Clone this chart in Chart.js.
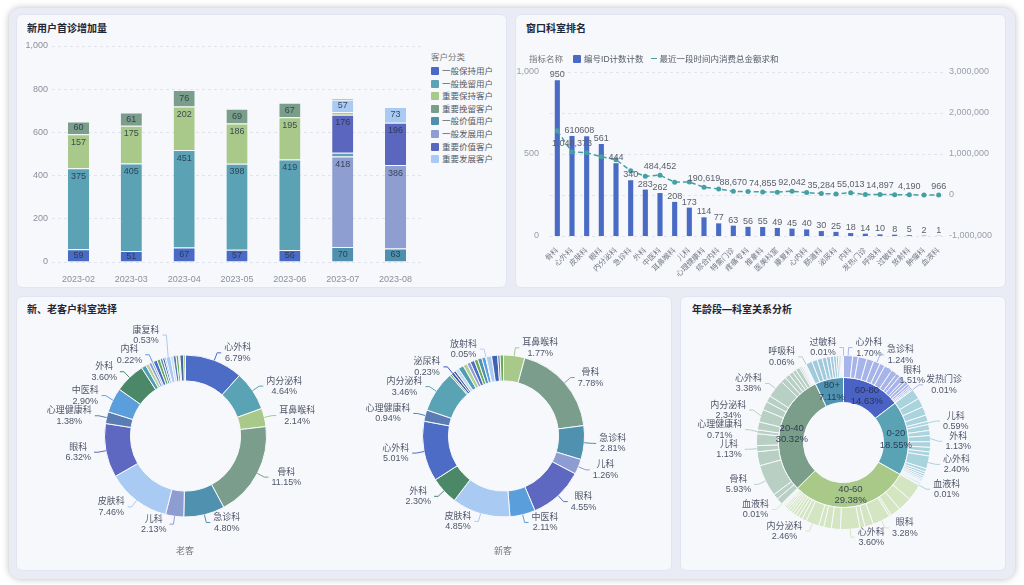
<!DOCTYPE html>
<html lang="zh-CN">
<head>
<meta charset="utf-8">
<title>科室分析看板</title>
<script src="https://cdn.jsdelivr.net/npm/chart.js@4.4.1/dist/chart.umd.min.js"></script>
<style>
  html, body { margin: 0; padding: 0; }
  body { width: 1024px; height: 585px; position: relative; overflow: hidden; background: #fff;
         font-family: "Liberation Sans", "Noto Sans CJK SC", sans-serif; }
  #frame { position: absolute; left: 9px; top: 8px; width: 1006px; height: 571px; border-radius: 12px;
           background: #eaecf5; box-shadow: 0 0 7px rgba(60, 60, 80, 0.35); }
  .panel { position: absolute; background: #f7f8fc; border: 1px solid #e2e5ef; border-radius: 6px; box-sizing: border-box; }
  .title { position: absolute; font-size: 10px; font-weight: bold; color: #1f2636; line-height: 12px; }
  canvas { position: absolute; }
  .legend { position: absolute; font-size: 8.5px; color: #555b66; line-height: 12px; white-space: nowrap; }
  .legend .item { position: absolute; left: 0; }
  .sw { display: inline-block; width: 8px; height: 8px; border-radius: 1px; vertical-align: -1px; margin-right: 3px; }
  .dash { display: inline-block; width: 6px; height: 0; border-top: 1.5px solid #45a0a3; vertical-align: 3px; margin-right: 3px; }
  .caption { position: absolute; font-size: 9px; color: #777; width: 60px; text-align: center; line-height: 12px; }
</style>
</head>
<body>
<div id="frame"></div>
<div class="panel" style="left:16px;top:14px;width:491px;height:274px"></div>
<div class="panel" style="left:515px;top:14px;width:491px;height:274px"></div>
<div class="panel" style="left:16px;top:296px;width:656px;height:275px"></div>
<div class="panel" style="left:680px;top:296px;width:326px;height:275px"></div>

<div class="title" style="left:27px;top:23px">新用户首诊增加量</div>
<div class="title" style="left:526px;top:23px">窗口科室排名</div>
<div class="title" style="left:27px;top:304px">新、老客户科室选择</div>
<div class="title" style="left:692px;top:304px">年龄段—科室关系分析</div>

<canvas id="growth" width="405" height="255" style="left:20px;top:30px"></canvas>
<div class="legend" id="growthLegend" style="left:431px;top:51px"></div>

<canvas id="rank" width="490" height="225" style="left:515px;top:60px"></canvas>
<div class="legend" id="rankLegend" style="left:529px;top:53px"></div>

<canvas id="oldPie" width="311" height="232" style="left:30px;top:320px"></canvas>
<canvas id="newPie" width="311" height="232" style="left:348px;top:320px"></canvas>
<div class="caption" style="left:155px;top:545px">老客</div>
<div class="caption" style="left:473px;top:545px">新客</div>

<canvas id="agePie" width="311" height="233" style="left:688px;top:326px"></canvas>

<script>
// ---------------- Data: 新用户首诊增加量 ----------------
const months = ['2023-02', '2023-03', '2023-04', '2023-05', '2023-06', '2023-07', '2023-08'];
const generalKeep = [59, 51, 67, 57, 56, 0, 0];          // 一般保持用户
const generalRetain = [375, 405, 451, 398, 419, 18, 0];  // 一般挽留用户
const importantKeep = [157, 175, 202, 186, 195, 12, 0];  // 重要保持客户
const importantRetain = [60, 61, 76, 69, 67, 8, 0];      // 重要挽留客户
const generalValue = [0, 0, 0, 0, 0, 70, 63];            // 一般价值用户
const generalGrow = [0, 0, 0, 0, 0, 418, 386];           // 一般发展用户
const importantValue = [0, 0, 0, 0, 0, 176, 196];        // 重要价值客户
const importantGrow = [0, 0, 0, 0, 0, 57, 73];           // 重要发展客户
const customerTypes = ['一般保持用户', '一般挽留用户', '重要保持客户', '重要挽留客户',
                       '一般价值用户', '一般发展用户', '重要价值客户', '重要发展客户'];

// ---------------- Data: 窗口科室排名 ----------------
const rankDepts = ['骨科', '心外科', '皮肤科', '眼科', '内分泌科', '急诊科', '外科', '中医科', '耳鼻喉科', '儿科',
                   '心理健康科', '综合内科', '特需门诊', '疼痛专科', '推拿科', '医美科室', '康复科', '心内科', '肠道科',
                   '泌尿科', '内科', '发热门诊', '呼吸科', '过敏科', '放射科', '肿瘤科', '血液科'];
const idCounts = [950, 610, 608, 561, 444, 340, 283, 262, 208, 173, 114, 77, 63, 56, 55, 49, 45, 40, 30, 25, 18, 14, 10, 8, 5, 2, 1];
const spendSums = [1566000, 1048373, 1032000, 935000, 862000, 592000, 455000, 484452, 312000, 318000, 190619, 148000,
                   88670, 86000, 74855, 70000, 92042, 58000, 35284, 25000, 55013, 12000, 14897, 9000, 4190, 2000, 966];

// ---------------- Data: 新、老客户科室选择 (% of all visits) ----------------
const oldDepts = ['心外科', '内分泌科', '耳鼻喉科', '骨科', '急诊科', '儿科', '皮肤科', '眼科', '心理健康科', '中医科', '外科',
                  '综合内科', '特需门诊', '疼痛专科', '内科', '推拿科', '医美科室', '心内科', '肠道科', '泌尿科', '康复科',
                  '发热门诊', '呼吸科', '过敏科', '放射科', '肿瘤科', '血液科'];
const oldShare = [6.79, 4.64, 2.14, 11.15, 4.80, 2.13, 7.46, 6.32, 1.38, 2.90, 3.60,
                  0.55, 0.40, 0.35, 0.22, 0.45, 0.38, 0.30, 0.25, 0.15, 0.53, 0.30, 0.35, 0.30, 0.15, 0.45, 0.20];
const oldLabelled = ['心外科', '内分泌科', '耳鼻喉科', '骨科', '急诊科', '儿科', '皮肤科', '眼科', '心理健康科', '中医科', '外科', '内科', '康复科'];

const newDepts = ['耳鼻喉科', '骨科', '急诊科', '儿科', '眼科', '中医科', '皮肤科', '外科', '心外科', '心理健康科', '内分泌科',
                  '血液科', '泌尿科', '肿瘤科', '发热门诊', '综合内科', '特需门诊', '疼痛专科', '推拿科', '医美科室', '心内科',
                  '内科', '放射科', '康复科', '肠道科', '呼吸科', '过敏科'];
const newShare = [1.77, 7.78, 2.81, 1.26, 4.55, 2.11, 4.85, 2.30, 5.01, 0.94, 3.46,
                  0.15, 0.23, 0.20, 0.30, 0.45, 0.35, 0.30, 0.35, 0.30, 0.35, 0.32, 0.05, 0.45, 0.50, 0.20, 0.28];
const newLabelled = ['耳鼻喉科', '骨科', '急诊科', '儿科', '眼科', '中医科', '皮肤科', '外科', '心外科', '心理健康科', '内分泌科', '泌尿科', '放射科'];

// ---------------- Data: 年龄段—科室关系分析 ----------------
const ageGroups = ['60-80', '0-20', '40-60', '20-40', '80+'];
const ageShare = [14.63, 18.55, 29.38, 30.32, 7.11];

const age6080Depts = ['心外科', '内分泌科', '骨科', '皮肤科', '急诊科', '中医科', '眼科', '外科', '儿科', '耳鼻喉科', '心理健康科',
                      '综合内科', '特需门诊', '疼痛专科', '推拿科', '康复科', '发热门诊'];
const age6080Share = [1.70, 1.05, 1.62, 1.30, 1.24, 0.98, 1.51, 1.10, 0.72, 0.95, 0.52, 0.60, 0.45, 0.32, 0.30, 0.26, 0.01];
const age6080Labelled = ['心外科', '急诊科', '眼科', '发热门诊'];

const age020Depts = ['眼科', '皮肤科', '骨科', '急诊科', '儿科', '内分泌科', '耳鼻喉科', '外科', '中医科', '心理健康科', '综合内科',
                     '心外科', '特需门诊', '推拿科', '康复科', '疼痛专科', '肠道科', '泌尿科', '内科', '呼吸科', '过敏科',
                     '放射科', '肿瘤科', '血液科'];
const age020Share = [1.95, 1.70, 1.60, 1.20, 0.59, 1.10, 0.95, 1.13, 1.05, 0.85, 0.75, 2.40, 0.60, 0.45, 0.40, 0.35, 0.30,
                     0.25, 0.20, 0.15, 0.10, 0.27, 0.20, 0.01];
const age020Labelled = ['儿科', '外科', '心外科', '血液科'];

const age4060Depts = ['骨科', '皮肤科', '急诊科', '综合内科', '眼科', '中医科', '儿科', '心外科', '外科', '耳鼻喉科', '心理健康科',
                      '内分泌科', '特需门诊', '推拿科', '康复科', '疼痛专科', '医美科室', '心内科', '肠道科', '泌尿科', '内科',
                      '发热门诊', '呼吸科', '过敏科', '放射科', '肿瘤科', '血液科'];
const age4060Share = [3.10, 2.56, 1.90, 0.40, 3.28, 1.60, 0.94, 3.60, 1.70, 1.40, 0.95, 2.46, 0.85, 0.70, 0.60, 0.55, 0.50,
                      0.45, 0.40, 0.35, 0.30, 0.20, 0.18, 0.15, 0.12, 0.13, 0.01];
const age4060Labelled = ['眼科', '心外科', '内分泌科', '血液科'];

const age2040Depts = ['外科', '中医科', '骨科', '眼科', '儿科', '皮肤科', '心理健康科', '急诊科', '内分泌科', '耳鼻喉科', '综合内科',
                      '心外科', '特需门诊', '推拿科', '康复科', '疼痛专科', '医美科室', '心内科', '肠道科', '泌尿科', '内科',
                      '发热门诊', '放射科', '肿瘤科', '过敏科', '呼吸科'];
const age2040Share = [1.20, 1.00, 5.93, 2.60, 1.13, 2.20, 0.71, 1.50, 2.34, 1.60, 1.20, 3.38, 1.00, 0.90, 0.80, 0.70, 0.78,
                      0.30, 0.25, 0.20, 0.18, 0.12, 0.10, 0.08, 0.06, 0.06];
const age2040Labelled = ['骨科', '儿科', '心理健康科', '内分泌科', '心外科', '呼吸科'];

const age80Depts = ['骨科', '眼科', '心外科', '内分泌科', '皮肤科', '急诊科', '中医科', '外科', '儿科', '耳鼻喉科', '心理健康科', '综合内科', '过敏科'];
const age80Share = [1.20, 1.00, 0.95, 0.80, 0.70, 0.60, 0.50, 0.40, 0.30, 0.25, 0.20, 0.20, 0.01];
const age80Labelled = ['过敏科'];

// ---------------- Styles ----------------
const PANEL_BG = '#f7f8fc';
const typeColors = {
  '一般保持用户': '#4a6bc5', '一般挽留用户': '#5ba2b4', '重要保持客户': '#a9c98a', '重要挽留客户': '#7b9e8a',
  '一般价值用户': '#4f90ae', '一般发展用户': '#8e9ed1', '重要价值客户': '#5b66bf', '重要发展客户': '#a9caf2'
};
const deptColors = {
  '心外科': '#4d6cc6', '内分泌科': '#5aa3b4', '耳鼻喉科': '#a9c98a', '骨科': '#7a9e8b', '急诊科': '#4f91ae',
  '儿科': '#8e9dd1', '皮肤科': '#a9caf2', '眼科': '#5f68c0', '心理健康科': '#5b7bb3', '中医科': '#5a9edc',
  '外科': '#4a8868', '综合内科': '#4f9fb1', '特需门诊': '#b5d19a', '疼痛专科': '#8e9dd1', '推拿科': '#4d6cc6',
  '医美科室': '#6aab55', '心内科': '#4f91ae', '肠道科': '#3f62b0', '泌尿科': '#3e57b8', '康复科': '#a9caf2',
  '内科': '#5a9edc', '发热门诊': '#c4daf5', '呼吸科': '#5b7bb3', '过敏科': '#6aab55', '放射科': '#b9cdef',
  '肿瘤科': '#4a6a9c', '血液科': '#7fb25f'
};
const ageColors = ['#4a62c4', '#5aa3b4', '#a8c987', '#7a9e8a', '#4f93b0'];
const ageTints = ['#a6b4ea', '#a9d3dd', '#d4e6c1', '#b8cfc4', '#a0cadb'];

Chart.defaults.font.family = '"Liberation Sans", "Noto Sans CJK SC", sans-serif';

function hit(b, x1, x2, y1, y2) {
  return x1 < b.x2 - 0.5 && x2 > b.x1 + 0.5 && y1 < b.y2 - 0.5 && y2 > b.y1 + 0.5;
}

// ---------------- Plugins ----------------
const segLabels = {
  id: 'segLabels',
  afterDatasetsDraw(chart) {
    const { ctx } = chart;
    ctx.save();
    ctx.font = '9px "Liberation Sans", sans-serif';
    ctx.fillStyle = 'rgba(38, 50, 72, 0.85)';
    ctx.textAlign = 'center';
    ctx.textBaseline = 'middle';
    chart.data.datasets.forEach((ds, d) => {
      chart.getDatasetMeta(d).data.forEach((bar, i) => {
        const v = ds.data[i];
        const h = bar.base - bar.y;
        if (!v || h < 9) return;
        ctx.fillText(String(v), bar.x, bar.y + Math.min(8, h / 2));
      });
    });
    ctx.restore();
  }
};

// bar labels always, line labels only where they don't collide
const rankLabels = {
  id: 'rankLabels',
  afterDatasetsDraw(chart) {
    const { ctx } = chart;
    const boxes = [];
    ctx.save();
    ctx.font = '9px "Liberation Sans", sans-serif';
    ctx.fillStyle = '#5a606b';
    ctx.textAlign = 'center';
    ctx.textBaseline = 'bottom';
    const put = (text, x, yb, force) => {
      const w = ctx.measureText(text).width - 2;
      const b = { x1: x - w / 2, x2: x + w / 2, y1: yb - 10, y2: yb };
      if (!force && boxes.some(o => hit(o, b.x1, b.x2, b.y1, b.y2))) return;
      boxes.push(b);
      ctx.fillText(text, x, yb);
    };
    const bars = chart.data.datasets[0].data;
    const sums = chart.data.datasets[1].data;
    chart.getDatasetMeta(0).data.forEach((bar, i) => put(String(bars[i]), bar.x, bar.y - 1, true));
    chart.getDatasetMeta(1).data.forEach((pt, i) => put(sums[i].toLocaleString('en-US'), pt.x, pt.y - 4, false));
    ctx.restore();
  }
};

function makeOutLabels(dsIndex, names, flags, lineColors) {
  return {
    id: 'outLabels',
    afterDatasetsDraw(chart) {
      const { ctx } = chart;
      const placed = [];
      const values = chart.data.datasets[dsIndex].data;
      ctx.save();
      ctx.font = '9px "Liberation Sans", "Noto Sans CJK SC", sans-serif';
      ctx.textAlign = 'center';
      ctx.textBaseline = 'middle';
      ctx.lineWidth = 1;
      chart.getDatasetMeta(dsIndex).data.forEach((arc, i) => {
        if (!flags[i]) return;
        const { x, y, startAngle, endAngle, outerRadius } =
          arc.getProps(['x', 'y', 'startAngle', 'endAngle', 'outerRadius'], true);
        const mid = (startAngle + endAngle) / 2;
        const dx = Math.cos(mid), dy = Math.sin(mid);
        const right = dx >= 0;
        const lines = [names[i], values[i].toFixed(2) + '%'];
        const w = Math.max(ctx.measureText(lines[0]).width, ctx.measureText(lines[1]).width);
        const p1x = x + dx * outerRadius, p1y = y + dy * outerRadius;
        const p2x = x + dx * (outerRadius + 8);
        let ly = y + dy * (outerRadius + 8);
        const p3x = p2x + (right ? 4 : -4);
        const bx = right ? p3x + 3 : p3x - 3 - w;
        const step = right ? 1 : -1;
        let n = 0;
        while (n <= 40 && placed.some(b => hit(b, bx, bx + w, ly - 10, ly + 10))) { ly += step; n++; }
        if (n > 40) return;
        placed.push({ x1: bx, x2: bx + w, y1: ly - 10, y2: ly + 10 });
        ctx.strokeStyle = lineColors[i];
        ctx.beginPath();
        ctx.moveTo(p1x, p1y);
        ctx.lineTo(p2x, ly);
        ctx.lineTo(p3x, ly);
        ctx.stroke();
        ctx.fillStyle = '#4f5668';
        ctx.fillText(lines[0], bx + w / 2, ly - 5);
        ctx.fillText(lines[1], bx + w / 2, ly + 5.5);
      });
      ctx.restore();
    }
  };
}

const innerLabels = {
  id: 'innerLabels',
  afterDatasetsDraw(chart) {
    const { ctx } = chart;
    const ds = chart.data.datasets[1];
    ctx.save();
    ctx.font = '9.5px "Liberation Sans", sans-serif';
    ctx.fillStyle = 'rgba(34, 44, 70, 0.85)';
    ctx.textAlign = 'center';
    ctx.textBaseline = 'middle';
    chart.getDatasetMeta(1).data.forEach((arc, i) => {
      const { x, y, startAngle, endAngle, innerRadius, outerRadius } =
        arc.getProps(['x', 'y', 'startAngle', 'endAngle', 'innerRadius', 'outerRadius'], true);
      const mid = (startAngle + endAngle) / 2;
      const r = (innerRadius + outerRadius) / 2;
      const cx = x + Math.cos(mid) * r, cy = y + Math.sin(mid) * r;
      ctx.fillText(ageGroups[i], cx, cy - 5.5);
      ctx.fillText(ds.data[i].toFixed(2) + '%', cx, cy + 6);
    });
    ctx.restore();
  }
};

// ---------------- 新用户首诊增加量 ----------------
function seg(label, data) {
  return {
    label, data, backgroundColor: typeColors[label],
    borderColor: PANEL_BG, borderWidth: { top: 1 }, borderSkipped: false,
    barPercentage: 0.4, categoryPercentage: 1
  };
}

const growthChart = new Chart(document.getElementById('growth'), {
  type: 'bar',
  data: {
    labels: months,
    // stacking order bottom -> top
    datasets: [
      seg('一般保持用户', generalKeep),
      seg('一般价值用户', generalValue),
      seg('一般发展用户', generalGrow),
      seg('一般挽留用户', generalRetain),
      seg('重要价值客户', importantValue),
      seg('重要保持客户', importantKeep),
      seg('重要发展客户', importantGrow),
      seg('重要挽留客户', importantRetain)
    ]
  },
  options: {
    responsive: false, animation: false, devicePixelRatio: 1, locale: 'en-US', events: [],
    layout: { padding: { top: 16, right: 3, bottom: 3, left: 0 } },
    plugins: { legend: { display: false }, tooltip: { enabled: false } },
    scales: {
      x: {
        stacked: true, grid: { display: false }, border: { display: false },
        ticks: { color: '#8a8f9a', font: { size: 9 }, padding: 4, maxRotation: 0 },
        afterFit: s => { s.height = 20; }
      },
      y: {
        stacked: true, min: 0, max: 1000,
        ticks: { stepSize: 200, color: '#8a8f9a', font: { size: 9 }, padding: 4 },
        grid: { color: '#e1e4ec', drawTicks: false }, border: { display: false, dash: [3, 3] },
        afterFit: s => { s.width = 32; }
      }
    }
  },
  plugins: [segLabels]
});

const growthLegend = document.getElementById('growthLegend');
growthLegend.innerHTML = '<div class="item" style="top:0;color:#777">客户分类</div>';
customerTypes.forEach((name, k) => {
  const ds = growthChart.data.datasets.find(d => d.label === name);
  const item = document.createElement('div');
  item.className = 'item';
  item.style.top = (14 + k * 12.6) + 'px';
  item.innerHTML = `<span class="sw" style="background:${ds.backgroundColor}"></span>${name}`;
  growthLegend.appendChild(item);
});

// ---------------- 窗口科室排名 ----------------
const rankChart = new Chart(document.getElementById('rank'), {
  type: 'bar',
  data: {
    labels: rankDepts,
    datasets: [
      { type: 'bar', label: '编号ID计数计数', data: idCounts, yAxisID: 'y', backgroundColor: '#4a6bc5',
        barPercentage: 0.35, categoryPercentage: 1, order: 1 },
      { type: 'line', label: '最近一段时间内消费总金额求和', data: spendSums, yAxisID: 'y2',
        borderColor: '#45a0a3', backgroundColor: '#45a0a3', borderWidth: 1.5, borderDash: [5, 3],
        pointRadius: 2.5, pointBorderWidth: 0, tension: 0, order: 0 }
    ]
  },
  options: {
    responsive: false, animation: false, devicePixelRatio: 1, locale: 'en-US', events: [],
    layout: { padding: { top: 12, right: 3, bottom: 4, left: 0 } },
    plugins: { legend: { display: false }, tooltip: { enabled: false } },
    scales: {
      x: {
        grid: { display: false }, border: { display: false },
        ticks: { autoSkip: false, maxRotation: 45, minRotation: 45, color: '#737884', font: { size: 7.5 }, padding: 2 },
        afterFit: s => { s.height = 45; }
      },
      y: {
        position: 'left', min: 0, max: 1000,
        ticks: { stepSize: 500, color: '#999ea8', font: { size: 9 }, padding: 3 },
        grid: { display: false }, border: { display: false },
        afterFit: s => { s.width = 35; }
      },
      y2: {
        position: 'right', min: -1000000, max: 3000000,
        ticks: { stepSize: 1000000, color: '#999ea8', font: { size: 9 }, padding: 3 },
        grid: { color: '#e1e4ec', drawTicks: false }, border: { display: false, dash: [3, 3] },
        afterFit: s => { s.width = 56; }
      }
    }
  },
  plugins: [rankLabels]
});

const [barDs, lineDs] = rankChart.data.datasets;
document.getElementById('rankLegend').innerHTML =
  `<span style="color:#777;margin-right:10px">指标名称</span>` +
  `<span class="sw" style="background:${barDs.backgroundColor}"></span><span style="margin-right:7px">${barDs.label}</span>` +
  `<span class="dash" style="border-color:${lineDs.borderColor}"></span><span>${lineDs.label}</span>`;

// ---------------- 新、老客户科室选择 ----------------
function deptPie(id, names, values, labelled) {
  const colors = names.map(n => deptColors[n]);
  const flags = names.map(n => labelled.includes(n));
  return new Chart(document.getElementById(id), {
    type: 'doughnut',
    data: { labels: names, datasets: [{ data: values, backgroundColor: colors, borderColor: PANEL_BG, borderWidth: 1 }] },
    options: {
      responsive: false, animation: false, devicePixelRatio: 1, events: [],
      radius: 81, cutout: '68%',
      plugins: { legend: { display: false }, tooltip: { enabled: false } }
    },
    plugins: [makeOutLabels(0, names, flags, colors)]
  });
}
deptPie('oldPie', oldDepts, oldShare, oldLabelled);
deptPie('newPie', newDepts, newShare, newLabelled);

// ---------------- 年龄段—科室关系分析 ----------------
const ringDepts = [age6080Depts, age020Depts, age4060Depts, age2040Depts, age80Depts];
const ringShares = [age6080Share, age020Share, age4060Share, age2040Share, age80Share];
const ringLabelled = [age6080Labelled, age020Labelled, age4060Labelled, age2040Labelled, age80Labelled];
const outerNames = [], outerValues = [], outerColors = [], outerFlags = [];
ringDepts.forEach((names, g) => {
  names.forEach((n, k) => {
    outerNames.push(n);
    outerValues.push(ringShares[g][k]);
    outerColors.push(ageTints[g]);
    outerFlags.push(ringLabelled[g].includes(n));
  });
});

new Chart(document.getElementById('agePie'), {
  type: 'doughnut',
  data: {
    labels: outerNames,
    datasets: [
      { data: outerValues, backgroundColor: outerColors, borderColor: PANEL_BG, borderWidth: 1, weight: 22 },
      { data: ageShare, backgroundColor: ageColors, borderColor: PANEL_BG, borderWidth: 1, weight: 25 }
    ]
  },
  options: {
    responsive: false, animation: false, devicePixelRatio: 1, events: [],
    radius: 87, cutout: '46%',
    plugins: { legend: { display: false }, tooltip: { enabled: false } }
  },
  plugins: [makeOutLabels(0, outerNames, outerFlags, outerColors), innerLabels]
});
</script>
</body>
</html>
